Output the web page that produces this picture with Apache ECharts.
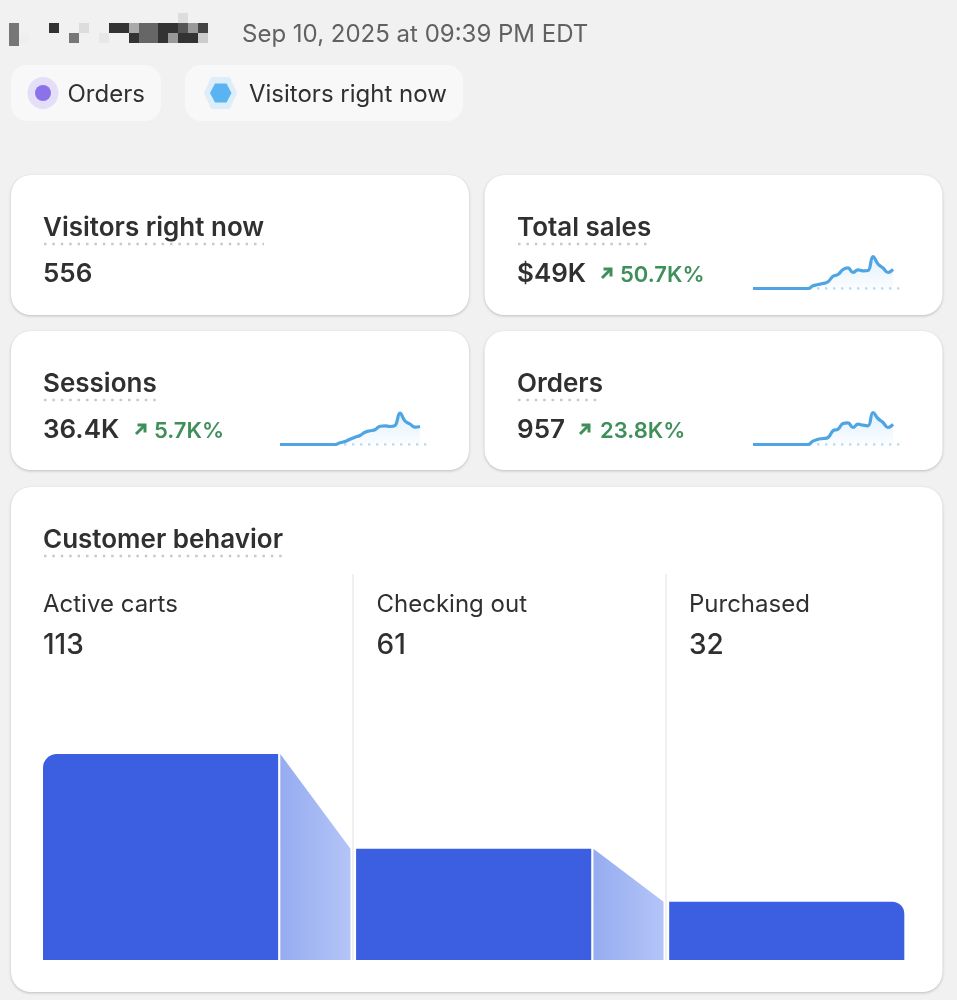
<!DOCTYPE html>
<html>
<head>
<meta charset="utf-8">
<style>
  html, body { margin: 0; padding: 0; background: #f1f1f1; }
  #main { width: 957px; height: 1000px; }
</style>
<script src="https://cdn.jsdelivr.net/npm/echarts@6/dist/echarts.min.js"></script>
</head>
<body>
<div id="main"></div>
<script>
// funnel
var stages = ['Active carts', 'Checking out', 'Purchased'];
var stageValues = [113, 61, 32];

// sparklines (relative height)
var salesTrend = [0, 0, 0, 0, 0, 0, 0, 0, 0, 0, 0, 0, 2.7, 4, 5, 6.7, 12.3, 14, 19, 20.7, 16, 18.7, 17.7, 18, 32, 24.5, 20.5, 16, 19.3];
var sessionsTrend = [0, 0, 0, 0, 0, 0, 0, 0, 0, 0, 0, 0, 1.7, 3, 5.3, 7.3, 9, 12.3, 13.7, 14.7, 18.3, 18.7, 18, 19, 31.5, 23.5, 20.5, 17.3, 18];
var ordersTrend = [0, 0, 0, 0, 0, 0, 0, 0, 0, 0, 0, 0, 3.3, 5.3, 6, 7, 13.7, 15.3, 21, 21.7, 17, 20.3, 19.3, 18.7, 32, 26, 22, 17, 20.3];
var previousTrend = [0, 0, 0, 0, 0, 0, 0, 0, 0, 0, 0, 0, 0, 0, 0, 0, 0, 0, 0, 0, 0, 0, 0, 0, 0, 0, 0, 0, 0, 0, 0];
var hours = previousTrend.map(function (v, i) { return i; });

var FONT = 'Inter, "Noto Sans", sans-serif';
var graphic = [];

function rect(x, y, w, h, r, fill, extra) {
  var el = { type: 'rect', silent: true, z: 1, shape: { x: x, y: y, width: w, height: h, r: r }, style: { fill: fill } };
  if (extra) { for (var k in extra) el.style[k] = extra[k]; }
  graphic.push(el);
}
function text(x, y, str, size, weight, color) {
  graphic.push({ type: 'text', silent: true, z: 5, x: x, y: y, style: {
    text: str, fill: color, font: weight + ' ' + size + 'px ' + FONT, textVerticalAlign: 'middle'
  } });
}
function card(x, y, w, h) {
  rect(x, y, w, h, 20, '#ffffff', { shadowBlur: 3, shadowColor: 'rgba(0,0,0,0.22)', shadowOffsetY: 1 });
}
function heading(x, y, str, underline) {
  text(x, y, str, 26, 600, '#303030');
  graphic.push({ type: 'line', silent: true, z: 5,
    shape: { x1: x + 1, y1: y + 16, x2: x + underline, y2: y + 16 },
    style: { stroke: '#c9c9c9', lineWidth: 2.5, lineDash: [2.5, 5.9] } });
}
function arrow(x, y) {
  graphic.push({ type: 'polyline', silent: true, z: 5,
    shape: { points: [[x, y + 9], [x + 8, y + 1]] }, style: { stroke: '#3f8f5a', lineWidth: 3, fill: null } });
  graphic.push({ type: 'polyline', silent: true, z: 5,
    shape: { points: [[x + 1.5, y], [x + 9, y], [x + 9, y + 7.5]] }, style: { stroke: '#3f8f5a', lineWidth: 3, fill: null } });
}

// redacted store name
[[9, 23, 10, 23, '#777777'], [19, 33, 10, 10, '#eeeeee'], [49, 23, 10, 10, '#333333'], [69, 33, 10, 10, '#777777'],
 [79, 23, 10, 10, '#dddddd'], [99, 33, 10, 10, '#e8e8e8'], [109, 23, 20, 10, '#333333'], [129, 23, 10, 10, '#aaaaaa'],
 [129, 33, 10, 10, '#333333'], [139, 23, 19, 20, '#666666'], [158, 23, 10, 20, '#333333'], [168, 33, 10, 10, '#999999'],
 [168, 23, 10, 10, '#333333'], [178, 13, 10, 10, '#dddddd'], [178, 23, 10, 10, '#555555'], [178, 33, 20, 10, '#333333'],
 [188, 23, 10, 10, '#999999'], [198, 23, 10, 10, '#444444'], [198, 33, 10, 10, '#cccccc']
].forEach(function (b) { rect(b[0], b[1], b[2], b[3], 0, b[4]); });
text(242, 35, 'Sep 10, 2025 at 09:39 PM EDT', 24, 400, '#616161');

// filter pills
rect(11, 65, 150, 56, 16, '#f8f8f8');
rect(185, 65, 278, 56, 16, '#f8f8f8');
graphic.push({ type: 'ellipse', silent: true, z: 3, shape: { cx: 43, cy: 93, rx: 15.5, ry: 16 }, style: { fill: '#e4def8' } });
graphic.push({ type: 'circle', silent: true, z: 4, shape: { cx: 43, cy: 93, r: 8 }, style: { fill: '#8b72ea' } });
graphic.push({ type: 'polygon', silent: true, z: 3, shape: { points: [[212, 78], [229, 78], [236, 93], [229, 108], [212, 108], [205, 93]] }, style: { fill: '#deedfa', stroke: '#deedfa', lineWidth: 2, lineJoin: 'round' } });
graphic.push({ type: 'polygon', silent: true, z: 4, shape: { points: [[215, 83.5], [226.5, 83.5], [231.5, 93], [226.5, 102.5], [215, 102.5], [210, 93]] }, style: { fill: '#5ab4f2' } });
text(67.5, 95, 'Orders', 24, 400, '#303030');
text(249, 95, 'Visitors right now', 24, 400, '#303030');

// metric cards
card(11, 175, 458, 140);
card(484.5, 175, 458, 140);
card(11, 331, 458, 139);
card(484.5, 331, 458, 139);
card(11, 487, 931.5, 505);

heading(43, 228, 'Visitors right now', 221);
text(43, 274, '556', 26, 600, '#303030');

heading(517, 228, 'Total sales', 133);
text(517, 274, '$49K', 26, 600, '#303030');
arrow(602, 269);
text(620, 275, '50.7K%', 22, 600, '#3f8f5a');

heading(43, 384, 'Sessions', 114);
text(43, 430, '36.4K', 26, 600, '#303030');
arrow(136, 425);
text(154, 431, '5.7K%', 22, 600, '#3f8f5a');

heading(517, 384, 'Orders', 85);
text(517, 430, '957', 26, 600, '#303030');
arrow(580, 425);
text(600, 431, '23.8K%', 22, 600, '#3f8f5a');

heading(43, 540, 'Customer behavior', 240);

// stage labels sit over the funnel columns
var stageLabelX = [43, 376.5, 689];
stages.forEach(function (name, i) {
  text(stageLabelX[i], 605, name, 24, 400, '#303030');
  text(stageLabelX[i], 646, String(stageValues[i]), 28, 500, '#303030');
});
[353, 666].forEach(function (x) {
  graphic.push({ type: 'line', silent: true, z: 2, shape: { x1: x, y1: 574, x2: x, y2: 960 }, style: { stroke: '#f0f0f0', lineWidth: 2 } });
});

// sparkline grids
var sparks = [
  { data: salesTrend, left: 753, top: 253.5 },
  { data: sessionsTrend, left: 280, top: 409.5 },
  { data: ordersTrend, left: 753, top: 409.5 }
];
var grids = [], xAxes = [], yAxes = [], series = [];
sparks.forEach(function (s, i) {
  grids.push({ left: s.left, top: s.top, width: 150, height: 35, containLabel: false });
  xAxes.push({ type: 'category', gridIndex: i, data: hours, boundaryGap: false, show: false });
  yAxes.push({ type: 'value', gridIndex: i, min: 0, max: 35, show: false });
  series.push({
    type: 'line', xAxisIndex: i, yAxisIndex: i, data: previousTrend, showSymbol: false, silent: true, z: 3,
    lineStyle: { color: '#bcd9ee', width: 2.4, type: [2.4, 5.6] }
  });
  series.push({
    type: 'line', xAxisIndex: i, yAxisIndex: i, data: s.data, showSymbol: false, smooth: 0.45, silent: true, z: 4,
    lineStyle: { color: '#4fa5e3', width: 3.2 },
    areaStyle: { color: new echarts.graphic.LinearGradient(0, 0, 0, 1, [
      { offset: 0, color: 'rgba(120,190,245,0.32)' },
      { offset: 1, color: 'rgba(120,190,245,0.04)' }
    ]) }
  });
});

// funnel grid, one x unit = one stage column
var funnelIndex = sparks.length;
grids.push({ left: 43, top: 754, width: 861, height: 206 });
xAxes.push({ type: 'value', gridIndex: funnelIndex, min: 0, max: 2.75, show: false });
yAxes.push({ type: 'value', gridIndex: funnelIndex, min: 0, max: 113, show: false });

series.push({
  type: 'custom', xAxisIndex: funnelIndex, yAxisIndex: funnelIndex, silent: true, z: 4,
  encode: { x: 0, y: 1 },
  data: stageValues.map(function (v, i) { return [i, v]; }),
  renderItem: function (params, api) {
    var i = api.value(0), v = api.value(1);
    var base = api.coord([i, 0]), top = api.coord([i, v]), end = api.coord([i + 0.751, 0]);
    var radius = i === 0 ? [14, 0, 0, 0] : (i === stageValues.length - 1 ? [0, 12, 0, 0] : 0);
    var children = [{
      type: 'rect', shape: { x: base[0], y: top[1], width: end[0] - base[0], height: base[1] - top[1], r: radius },
      style: { fill: '#3c5ee0' }
    }];
    if (i < stageValues.length - 1) {
      var next = stageValues[i + 1];
      var x0 = api.coord([i + 0.758, 0])[0], x1 = api.coord([i + 0.982, 0])[0];
      children.push({
        type: 'polygon',
        shape: { points: [[x0, top[1]], [x1, api.coord([i, next])[1]], [x1, base[1]], [x0, base[1]]] },
        style: { fill: new echarts.graphic.LinearGradient(0, 0, 1, 0, [
          { offset: 0, color: '#96acf0' },
          { offset: 1, color: '#b3c4f7' }
        ]) }
      });
    }
    return { type: 'group', children: children };
  }
});

var chart = echarts.init(document.getElementById('main'));
chart.setOption({
  animation: false,
  backgroundColor: '#f1f1f1',
  grid: grids,
  xAxis: xAxes,
  yAxis: yAxes,
  series: series,
  graphic: { elements: graphic }
});
</script>
</body>
</html>
